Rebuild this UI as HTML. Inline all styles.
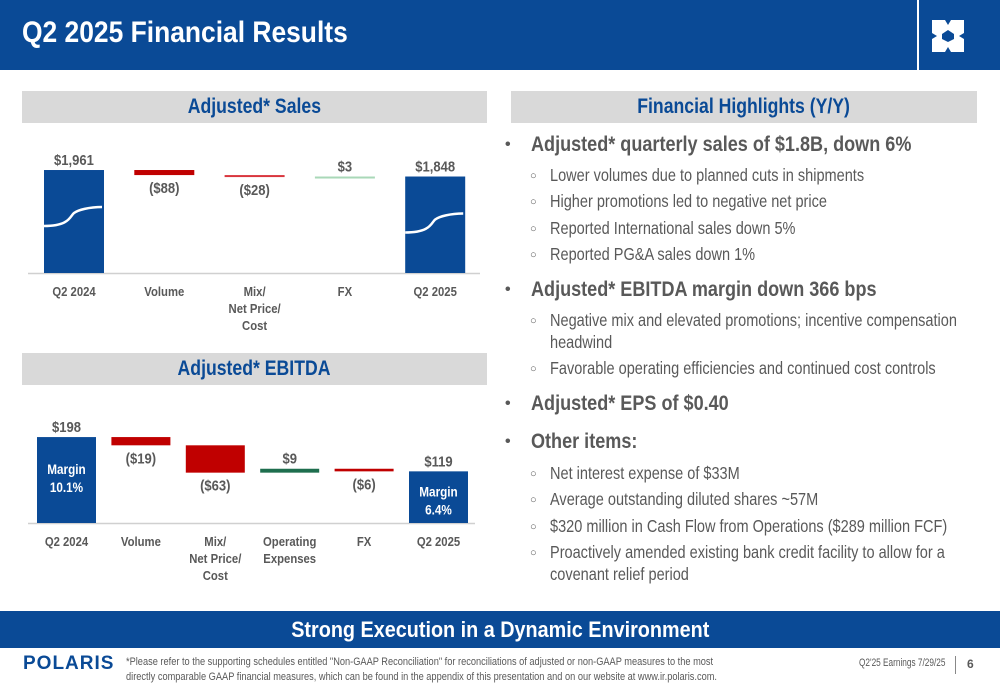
<!DOCTYPE html>
<html><head><meta charset="utf-8">
<style>
*{margin:0;padding:0;box-sizing:border-box}
body{width:1000px;height:685px;position:relative;background:#fff;overflow:hidden;font-family:"Liberation Sans",sans-serif;color:#595959}
.abs{position:absolute;white-space:nowrap}
.sx{display:inline-block;transform:scaleX(0.84);transform-origin:left center;white-space:nowrap}
.sc{display:inline-block;transform:scaleX(0.84);transform-origin:center center;white-space:nowrap}
.hdr{position:absolute;background:#d9d9d9;color:#0a4a96;font-weight:bold;font-size:21px;text-align:center;line-height:32px}
.b1{position:absolute;left:509px;font-weight:bold;font-size:21px;color:#595959}
.b1:before{content:"•";position:absolute;left:-4px;font-size:16px;top:3px}
.b1 span{position:absolute;left:22px;white-space:nowrap;transform:scaleX(0.86);transform-origin:left center}
.b2{position:absolute;left:530px;font-size:17.5px;color:#595959;line-height:22px}
.b2:before{content:"○";position:absolute;left:0;font-size:11px;top:1px}
.b2 span{position:absolute;left:20px;white-space:nowrap;transform:scaleX(0.83);transform-origin:left center}
.cont{transform:scaleX(0.83);transform-origin:left center}
</style></head><body>
<div class="abs" style="left:0;top:0;width:1000px;height:70px;background:#0a4a96"></div>
<div class="abs" style="left:22px;top:16px;color:#fff;font-size:30px;font-weight:bold"><span class="sx" style="transform:scaleX(0.88)">Q2 2025 Financial Results</span></div>
<div class="abs" style="left:917px;top:0;width:60px;height:70px;background:#0a4a96;border-left:2px solid #fff">
<svg width="58" height="70" viewBox="0 0 58 70"><path d="M13 20h13l3 5 3-5h13v13l-5 3 5 3v13H32l-3-5-3 5H13V39l5-3-5-3z" fill="#fff"/><path d="M23 34l6-4 6 4v5l-6 3-6-3z" fill="#0a4a96"/></svg></div>

<div class="hdr" style="left:22px;top:91px;width:465px"><span class="sc">Adjusted* Sales</span></div>
<div class="hdr" style="left:22px;top:353px;width:465px"><span class="sc">Adjusted* EBITDA</span></div>
<div class="hdr" style="left:511px;top:91px;width:466px"><span class="sc">Financial Highlights (Y/Y)</span></div>

<svg class="abs" style="left:0;top:0" width="500" height="600" id="charts"></svg>

<div class="b1" style="top:133px"><span>Adjusted* quarterly sales of $1.8B, down 6%</span></div>
<div class="b2" style="top:164px"><span>Lower volumes due to planned cuts in shipments</span></div>
<div class="b2" style="top:190px"><span>Higher promotions led to negative net price</span></div>
<div class="b2" style="top:217px"><span>Reported International sales down 5%</span></div>
<div class="b2" style="top:243px"><span>Reported PG&amp;A sales down 1%</span></div>
<div class="b1" style="top:278px"><span>Adjusted* EBITDA margin down 366 bps</span></div>
<div class="b2" style="top:309px"><span>Negative mix and elevated promotions; incentive compensation</span></div>
<div class="abs cont" style="left:550px;top:331px;font-size:17.5px;line-height:22px">headwind</div>
<div class="b2" style="top:357px"><span>Favorable operating efficiencies and continued cost controls</span></div>
<div class="b1" style="top:392px"><span>Adjusted* EPS of $0.40</span></div>
<div class="b1" style="top:430px"><span>Other items:</span></div>
<div class="b2" style="top:462px"><span>Net interest expense of $33M</span></div>
<div class="b2" style="top:488px"><span>Average outstanding diluted shares ~57M</span></div>
<div class="b2" style="top:515px"><span>$320 million in Cash Flow from Operations ($289 million FCF)</span></div>
<div class="b2" style="top:541px"><span>Proactively amended existing bank credit facility to allow for a</span></div>
<div class="abs cont" style="left:550px;top:563px;font-size:17.5px;line-height:22px">covenant relief period</div>

<div class="abs" style="left:0;top:611px;width:1000px;height:37px;background:#0a4a96;color:#fff;font-weight:bold;font-size:22px;text-align:center;line-height:37px"><span class="sc" style="transform:scaleX(0.9)">Strong Execution in a Dynamic Environment</span></div>
<div class="abs" style="left:23px;top:653px;color:#0a4a96;font-weight:bold;font-size:19px;letter-spacing:1px">POLARIS</div>
<div class="abs" style="left:126px;top:655px;font-size:11px;line-height:15px;color:#595959"><span class="sx">*Please refer to the supporting schedules entitled "Non-GAAP Reconciliation" for reconciliations of adjusted or non-GAAP measures to the most<br>directly comparable GAAP financial measures, which can be found in the appendix of this presentation and on our website at www.ir.polaris.com.</span></div>
<div class="abs" style="left:859px;top:657px;font-size:11px;color:#595959"><span class="sx" style="transform:scaleX(0.75)">Q2'25 Earnings 7/29/25</span></div>
<div class="abs" style="left:955px;top:656px;width:1px;height:18px;background:#888"></div>
<div class="abs" style="left:967px;top:657px;font-size:12px;font-weight:bold;color:#595959">6</div>

<script>
const salesCats=["Q2 2024","Volume","Mix/|Net Price/|Cost","FX","Q2 2025"];
const salesVals=[1961,-88,-28,3,1848];
const salesLabels=["$1,961","($88)","($28)","$3","$1,848"];
const ebitdaCats=["Q2 2024","Volume","Mix/|Net Price/|Cost","Operating|Expenses","FX","Q2 2025"];
const ebitdaVals=[198,-19,-63,9,-6,119];
const ebitdaLabels=["$198","($19)","($63)","$9","($6)","$119"];
const ebitdaMargins=["Margin|10.1%","","","","","Margin|6.4%"];

const NS="http://www.w3.org/2000/svg";
const svg=document.getElementById('charts');
function mk(tag,attrs){const e=document.createElementNS(NS,tag);for(const k in attrs)e.setAttribute(k,attrs[k]);svg.appendChild(e);return e;}
function txt(x,y,s,opts){const lines=s.split('|');lines.forEach((l,i)=>{const t=mk('text',{x:x,y:y+i*(opts.lh||17),'text-anchor':'middle','font-size':opts.size||14,'font-weight':'bold',fill:opts.fill||'#595959',transform:`translate(${x},0) scale(0.87,1) translate(${-x},0)`});t.textContent=l;});}

function waterfall(cats,vals,labels,o){
  const y=v=>o.base-(v-o.min)*o.k;
  const ln=mk('line',{x1:o.x0,x2:o.x1,y1:o.base+0.5,y2:o.base+0.5,stroke:'#d0d0d0','stroke-width':1.5});
  
  let run=0;
  vals.forEach((v,i)=>{
    const x=o.start+i*o.step;const last=i===vals.length-1;
    let top,bot,fill;
    if(i===0||last){top=y(v);bot=o.base;fill='#0a4a96';run=v;}
    else{const nr=run+v;top=y(Math.max(run,nr));bot=y(Math.min(run,nr));fill=v<0?(o.redFn(v)):o.green;run=nr;}
    if(bot-top<2){bot=top+2;}
    const r=mk('rect',{x:x,y:top,width:o.w,height:bot-top,fill:fill});
    
    
    const cx=x+o.w/2;
    if(i===0||last||v>0) txt(cx,top-5,labels[i],{size:15,name:'value-label'});
    else txt(cx,bot+18,labels[i],{size:15,name:'value-label'});
    txt(cx,o.base+23,cats[i],{size:13,name:'category-label',lh:17});
    if(o.margins&&o.margins[i]) txt(cx,(i===0?top+37:top+25),o.margins[i],{size:13.5,fill:'#fff',name:'margin-label',lh:18});
    if(o.swoosh&&(i===0||last)){const p=mk('path',{d:`M${x} ${top+56}C${x+26} ${top+56} ${x+26} ${top+46} ${x+30} ${top+43}S${x+45} ${top+37} ${x+o.w-2} ${top+37}`,stroke:'#fff','stroke-width':2.5,fill:'none'});}
  });
}
waterfall(salesCats,salesVals,salesLabels,{base:273,min:170,k:0.0575,x0:28,x1:480,start:44,step:90.3,w:60,green:'#a9d8b8',redFn:v=>v<-50?'#c00000':'#d9363e',swoosh:true});
waterfall(ebitdaCats,ebitdaVals,ebitdaLabels,{base:523,min:0,k:0.434,x0:28,x1:475,start:37,step:74.4,w:59,green:'#1e6e4e',redFn:v=>'#c00000',margins:ebitdaMargins});
</script>
</body></html>
